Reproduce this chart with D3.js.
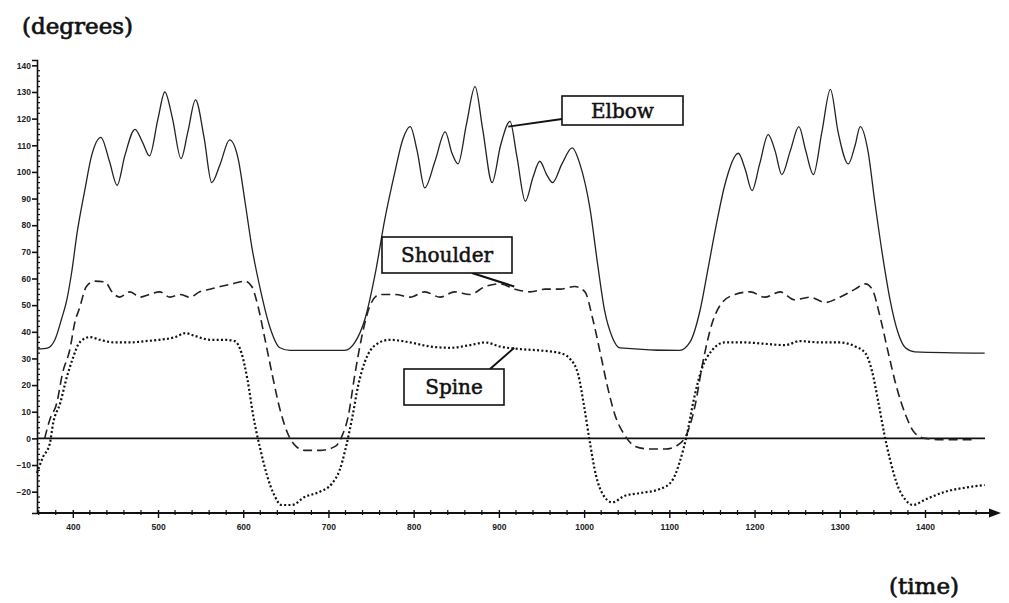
<!DOCTYPE html>
<html><head><meta charset="utf-8">
<script src="https://cdn.jsdelivr.net/npm/d3@7"></script>
<style>body{margin:0;background:#fff}svg{display:block}</style>
</head><body>
<svg id="c" width="1009" height="603"></svg>
<script>
// ---- data (time, degrees) ----
const elbowT = [358,371,379,387,393,399,405,414,422,433,443,452,461,473,482,490,500,508,517,527,535,544,554,563,573,584,594,602,610,620,631,643,655,719,731,743,755,766,778,787,796,804,813,825,837,845,852,862,872,881,892,902,913,921,931,940,948,956,963,974,986,995,1007,1016,1024,1033,1042,1112,1124,1136,1145,1155,1165,1181,1189,1197,1206,1216,1224,1232,1242,1252,1260,1269,1279,1289,1298,1310,1318,1324,1333,1341,1351,1359,1368,1377,1388,1470];
const elbowV = [33.5,34,37,45,52,63,77,93,106,113,104,95,106,116,111,106,120,130,120,105,115,127,113,96,103,112,105,89,72,56,42,34,33,33,36,45,62,82,100,112,117,108,94,104,115,107,103,118,132,116,96,110,119,106,89,98,104,99,96,103,109,103,86,65,48,38,34,33,36,48,63,80,95,107,101,93,103,114,108,99,108,117,108,99,115,131,115,103,110,117,108,89,67,52,40,34,32.5,32];

const shoulderT = [367,373,381,388,397,402,408,416,426,438,446,455,467,479,490,502,514,526,537,549,561,573,587,602,610,617,625,634,643,652,662,672,690,708,716,723,731,739,749,760,778,796,813,831,848,866,884,901,919,937,954,972,989,1001,1010,1019,1027,1036,1048,1060,1077,1095,1110,1121,1130,1139,1150,1162,1177,1195,1212,1230,1247,1265,1283,1300,1318,1330,1338,1347,1357,1366,1377,1388,1400,1418,1459];
const shoulderV = [0,7,13,24.5,34,43,49,57,59,58.7,55,53,55,53,54,55,53,54,53,55,56,57,58,59,57,50,38,24,11,2,-3,-4.5,-4.5,-3,1,8,24,38,50,54,54,53,55,53,55,54,57,58,56,55,56,56,57,55,45,32,20,9,1,-3,-4,-4,-2.5,2,12,28,43,51,54,55,53,55,52,53,51,53,56,58,56,46,32,20,9,2,0,-0.5,-0.5];

const spineT = [358,365,373,377,385,393,400,408,420,432,449,467,485,502,520,532,543,561,578,590,598,605,612,620,628,636,645,657,672,690,704,713,720,728,735,743,755,772,796,819,843,866,884,901,925,948,972,983,993,1000,1007,1014,1022,1033,1048,1066,1089,1103,1112,1121,1129,1138,1150,1165,1189,1212,1236,1253,1277,1300,1318,1330,1338,1345,1352,1359,1367,1377,1386,1400,1424,1447,1470];
const spineV = [-13,-7,-2,5.8,13,23,30,36,38,37,36,36,36.5,37,38,39.5,38.5,37,37,36.5,32,22,8,-4,-14,-21,-25,-25,-22,-20,-17,-12,-4,8,20,29,35,37,36,34.5,34,35,36,34.5,33.5,33,32,30,24,12,-2,-14,-21,-24,-21.5,-20.5,-19,-16,-9,2,15,26,33,36,36,35.5,35,36.5,36,36,34.5,32,25,14,2,-8,-17,-23,-25,-23,-20,-18.5,-17.5];

const xTicks = [400,500,600,700,800,900,1000,1100,1200,1300,1400];
const yTicks = [-20,-10,0,10,20,30,40,50,60,70,80,90,100,110,120,130,140];
const seriesNames = ["Elbow","Shoulder","Spine"];

// ---- layout ----
const svg = d3.select("#c");
const x = d3.scaleLinear().domain([358,1488]).range([37,1000]);
const y = d3.scaleLinear().domain([-28,142]).range([513,60]);
const ink = "#111";
const serif = "DejaVu Serif, Liberation Serif, serif";

// y axis
const yAxis = d3.axisLeft(y).tickValues(yTicks).tickSize(5).tickFormat(d3.format("d"));
const gy = svg.append("g").attr("transform","translate(37,0)").call(yAxis);
gy.select(".domain").attr("stroke",ink).attr("stroke-width",1.6);
gy.selectAll(".tick line").attr("stroke",ink).attr("stroke-width",1.6);
gy.selectAll(".tick text").attr("font-family","Liberation Sans, Arial").attr("font-size",8.5).attr("font-weight","bold").attr("fill","#222").attr("x",-6);
const yMinor = d3.range(-28,142,2).filter(v => v%10!==0);
svg.append("g").selectAll("line").data(yMinor).join("line")
  .attr("x1",37).attr("x2",40).attr("y1",d=>y(d)).attr("y2",d=>y(d))
  .attr("stroke",ink).attr("stroke-width",1.2);

// x axis
const xAxis = d3.axisBottom(x).tickValues(xTicks).tickSize(5).tickFormat(d3.format("d"));
const gx = svg.append("g").attr("transform","translate(0,513)").call(xAxis);
gx.select(".domain").remove();
gx.selectAll(".tick line").attr("stroke",ink).attr("stroke-width",1.4).attr("y1",-3);
gx.selectAll(".tick text").attr("font-family","Liberation Sans, Arial").attr("font-size",8.5).attr("font-weight","bold").attr("fill","#222").attr("y",11);
svg.append("line").attr("x1",37).attr("x2",992).attr("y1",513).attr("y2",513).attr("stroke",ink).attr("stroke-width",2);
svg.append("path").attr("d","M1001,513 L989,508.5 L989,517.5 Z").attr("fill",ink);
const xMinor = d3.range(360,1480,20).filter(v => v%100!==0);
svg.append("g").selectAll("line").data(xMinor).join("line")
  .attr("x1",d=>x(d)).attr("x2",d=>x(d)).attr("y1",510).attr("y2",515)
  .attr("stroke",ink).attr("stroke-width",1.2);

// zero line
svg.append("line").attr("x1",37).attr("x2",985).attr("y1",y(0)).attr("y2",y(0)).attr("stroke",ink).attr("stroke-width",1.8);

// series
const line = d3.line().x(d=>x(d[0])).y(d=>y(d[1])).curve(d3.curveMonotoneX);
const zip = (a,b)=>a.map((t,i)=>[t,b[i]]);
svg.append("path").datum(zip(elbowT,elbowV)).attr("d",line).attr("fill","none").attr("stroke","#222").attr("stroke-width",1.3);
svg.append("path").datum(zip(shoulderT,shoulderV)).attr("d",line).attr("fill","none").attr("stroke","#222").attr("stroke-width",1.6).attr("stroke-dasharray","9,5");
svg.append("path").datum(zip(spineT,spineV)).attr("d",line).attr("fill","none").attr("stroke","#111").attr("stroke-width",2.2).attr("stroke-dasharray","2,2.3");

// callouts
const callouts = [
  {name:seriesNames[0], bx:562, by:96, bw:121, bh:29, lx1:562, ly1:119, t:911, v:117},
  {name:seriesNames[1], bx:382, by:237, bw:130, bh:36, lx1:472, ly1:273, t:918, v:57},
  {name:seriesNames[2], bx:404, by:369, bw:100, bh:36, lx1:490, ly1:369, t:918, v:34}
];
callouts.forEach(c=>{
  svg.append("line").attr("x1",c.lx1).attr("y1",c.ly1).attr("x2",x(c.t)).attr("y2",y(c.v)).attr("stroke",ink).attr("stroke-width",2);
  svg.append("rect").attr("x",c.bx).attr("y",c.by).attr("width",c.bw).attr("height",c.bh).attr("fill","#fff").attr("stroke",ink).attr("stroke-width",1.6);
  svg.append("text").attr("x",c.bx+c.bw/2).attr("y",c.by+c.bh/2+7).attr("text-anchor","middle")
    .attr("font-family",serif).attr("font-size",20).attr("fill",ink)
    .attr("stroke",ink).attr("stroke-width",0.5).text(c.name);
});

// axis titles
svg.append("text").attr("x",22).attr("y",34).attr("font-family",serif).attr("font-size",23).attr("fill",ink).attr("stroke",ink).attr("stroke-width",0.7).text("(degrees)");
svg.append("text").attr("x",889).attr("y",594).attr("font-family",serif).attr("font-size",23).attr("fill",ink).attr("stroke",ink).attr("stroke-width",0.7).text("(time)");
</script>
</body></html>
